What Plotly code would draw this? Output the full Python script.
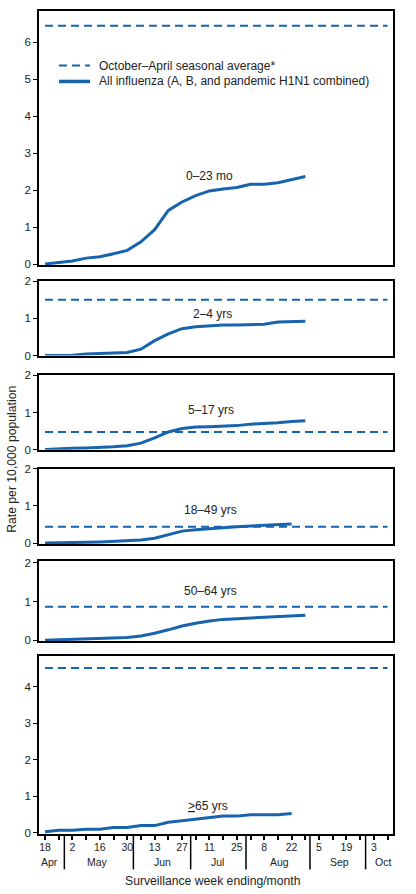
import plotly.graph_objects as go
from plotly.subplots import make_subplots

# Weeks since week ending April 18
weeks = list(range(26))

# Cumulative hospitalization rates (per 10,000)
rate_0_23mo = [0.0, 0.04, 0.08, 0.16, 0.2, 0.28, 0.37, 0.6, 0.93, 1.45,
               1.68, 1.85, 1.98, 2.03, 2.07, 2.16, 2.16, 2.2, 2.28, 2.37]
rate_2_4yrs = [0.0, 0.0, 0.01, 0.04, 0.05, 0.05, 0.08, 0.17, 0.4, 0.58,
               0.72, 0.77, 0.8, 0.82, 0.82, 0.82, 0.84, 0.9, 0.9, 0.92]
rate_5_17yrs = [0.01, 0.03, 0.04, 0.05, 0.06, 0.08, 0.11, 0.18, 0.32, 0.48,
                0.57, 0.61, 0.62, 0.63, 0.65, 0.69, 0.7, 0.73, 0.76, 0.78]
rate_18_49yrs = [0.0, 0.0, 0.01, 0.02, 0.03, 0.04, 0.05, 0.08, 0.13, 0.22,
                 0.32, 0.36, 0.39, 0.42, 0.44, 0.46, 0.48, 0.49, 0.51]
rate_50_64yrs = [0.0, 0.01, 0.02, 0.03, 0.04, 0.05, 0.07, 0.11, 0.18, 0.27,
                 0.37, 0.44, 0.5, 0.54, 0.56, 0.58, 0.6, 0.62, 0.63, 0.65]
rate_65plus = [0.03, 0.07, 0.07, 0.1, 0.1, 0.15, 0.15, 0.2, 0.2, 0.29,
               0.33, 0.38, 0.42, 0.46, 0.46, 0.5, 0.5, 0.5, 0.53]

# October-April seasonal averages
seasonal_avg = [6.45, 1.5, 0.48, 0.44, 0.87, 4.52]

age_labels = ["0–23 mo", "2–4 yrs", "5–17 yrs", "18–49 yrs", "50–64 yrs", "<u>></u>65 yrs"]
rates = [rate_0_23mo, rate_2_4yrs, rate_5_17yrs, rate_18_49yrs, rate_50_64yrs, rate_65plus]

legend_names = ["October–April seasonal average*",
                "All influenza (A, B, and pandemic H1N1 combined)"]

# x-axis labels
day_labels = ["18", "", "2", "", "16", "", "30", "", "13", "", "27", "", "11", "",
              "25", "", "8", "", "22", "", "5", "", "19", "", "3", ""]
months = ["Apr", "May", "Jun", "Jul", "Aug", "Sep", "Oct"]
month_centers = [0.35, 3.8, 8.6, 12.6, 17.1, 21.5, 24.7]
month_breaks = [1.41, 6.45, 10.63, 14.67, 19.34, 23.4]

blue = "#1763ad"
ink = "#222"
font = "Liberation Sans, Arial, sans-serif"

fig = make_subplots(rows=6, cols=1)

domains = [[0.6912, 1.0], [0.5814, 0.6719], [0.4668, 0.5573],
           [0.3522, 0.4439], [0.2340, 0.3317], [0.0, 0.2159]]
yranges = [[-0.03, 6.85], [0, 2], [0, 2], [-0.03, 2], [-0.03, 2.05], [-0.03, 4.84]]
ytickvals = [[0, 1, 2, 3, 4, 5, 6], [0, 1, 2], [0, 1, 2], [0, 1, 2], [0, 1, 2], [0, 1, 2, 3, 4]]
label_pos = [(12.0, 2.37), (12.2, 1.12), (12.1, 1.07), (12.1, 0.9), (12.1, 1.28), (11.9, 0.74)]

for i in range(6):
    r = i + 1
    fig.add_trace(go.Scatter(
        x=[weeks[0], weeks[-1]], y=[seasonal_avg[i], seasonal_avg[i]],
        mode="lines", line=dict(color=blue, width=2, dash="8px,5px"),
        name=legend_names[0], showlegend=False, hoverinfo="skip"), row=r, col=1)
    fig.add_trace(go.Scatter(
        x=weeks[:len(rates[i])], y=rates[i],
        mode="lines", line=dict(color=blue, width=3),
        name=legend_names[1], showlegend=False, hoverinfo="skip"), row=r, col=1)

    fig.update_yaxes(
        domain=domains[i], range=yranges[i], tickvals=ytickvals[i],
        ticks="outside", ticklen=4, tickcolor="black", showgrid=False, zeroline=False,
        showline=True, mirror=True, linecolor="black", linewidth=1.5,
        tickfont=dict(size=11.5, color=ink), row=r, col=1)
    fig.update_xaxes(
        range=[-0.44, 25.4], showgrid=False, zeroline=False,
        showline=True, mirror=True, linecolor="black", linewidth=1.5,
        showticklabels=False, ticks="", row=r, col=1)

    fig.add_annotation(x=label_pos[i][0], y=label_pos[i][1], xref=f"x{r}" if r > 1 else "x",
                       yref=f"y{r}" if r > 1 else "y", text=age_labels[i], showarrow=False,
                       font=dict(size=12, color=ink))

fig.update_xaxes(
    tickvals=weeks, ticktext=day_labels, showticklabels=True, ticks="outside",
    ticklen=4, tickcolor="black", tickwidth=1.5, tickfont=dict(size=10.5, color=ink),
    ticklabelstandoff=-1, row=6, col=1)

for m, c in zip(months, month_centers):
    fig.add_annotation(x=c, y=-0.0338, xref="x6", yref="paper", text=m, showarrow=False,
                       yanchor="middle", font=dict(size=10.5, color=ink))

for b in month_breaks:
    fig.add_shape(type="line", x0=b, x1=b, y0=0, y1=-0.043, xref="x6", yref="paper",
                  line=dict(color="black", width=1.5))

# legend drawn by hand to keep the tight row spacing
legend_rows = [0.9337, 0.9144]
legend_dash = ["8px,5px", "solid"]
legend_width = [2, 3.5]
for name, yy, dsh, w in zip(legend_names, legend_rows, legend_dash, legend_width):
    fig.add_shape(type="line", x0=0.0565, x1=0.144, y0=yy, y1=yy, xref="paper", yref="paper",
                  line=dict(color=blue, width=w, dash=dsh))
    fig.add_annotation(x=0.1638, y=yy, xref="paper", yref="paper", text=name,
                       xanchor="left", yanchor="middle", showarrow=False,
                       font=dict(size=12, color=ink))

fig.add_annotation(x=0.4915, y=-0.0573, xref="paper", yref="paper",
                   text="Surveillance week ending/month", showarrow=False,
                   xanchor="center", yanchor="middle",
                   font=dict(size=12.2, color=ink))
fig.add_annotation(x=-0.076, y=0.4548, xref="paper", yref="paper", textangle=-90,
                   text="Rate per 10,000 population", showarrow=False,
                   xanchor="center", yanchor="middle",
                   font=dict(size=12.2, color=ink))

fig.update_layout(
    width=416, height=894,
    margin=dict(l=39, r=23, t=5, b=60),
    paper_bgcolor="white", plot_bgcolor="white",
    font=dict(family=font, color=ink),
    showlegend=False,
)

fig.write_html("out.html", config={"displayModeBar": False},
               post_script="document.body.style.margin='0';")
